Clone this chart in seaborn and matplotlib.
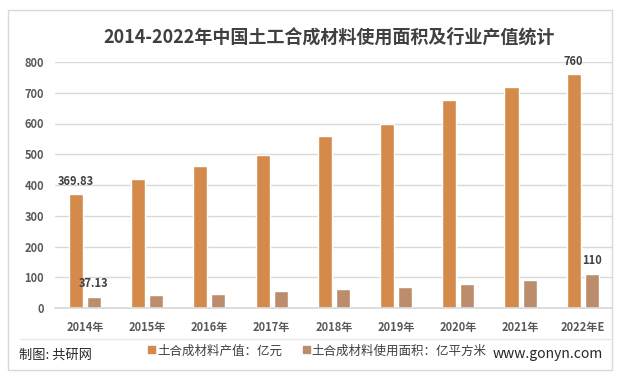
import matplotlib
matplotlib.use("Agg")
import matplotlib.pyplot as plt
import seaborn as sns
import pandas as pd
from matplotlib.patches import Rectangle
from matplotlib.lines import Line2D

years = ["2014年", "2015年", "2016年", "2017年", "2018年", "2019年", "2020年", "2021年", "2022年E"]
output_value = [369.83, 420, 463, 498, 560, 600, 677, 720, 760]
usage_area = [37.13, 42, 46, 55, 63, 69, 79, 91, 110]
series_names = ["土合成材料产值：亿元", "土合成材料使用面积：亿平方米"]
colors = ["#D48A4B", "#BC8D6C"]

sns.set_theme(style="white")
plt.rcParams["font.family"] = ["Noto Sans CJK SC", "DejaVu Sans"]

df = pd.DataFrame({
    "year": years * 2,
    "value": output_value + usage_area,
    "series": [series_names[0]] * len(years) + [series_names[1]] * len(years),
})

fig = plt.figure(figsize=(6.19, 3.80), dpi=100)
ax = fig.add_axes([55 / 619, 1 - 308 / 380, (612 - 55) / 619, (308 - 62) / 380])

sns.barplot(data=df, x="year", y="value", hue="series", palette=colors,
            width=0.58, gap=0.22, ax=ax, legend=False, saturation=1)

ax.set_ylim(0, 800)
ax.set_xlim(-0.48, len(years) - 0.53)
ax.set_yticks(range(0, 801, 100))
ax.yaxis.grid(True, color="#D9D9D9", linewidth=1)
ax.set_axisbelow(True)
for s in ax.spines.values():
    s.set_visible(False)
ax.spines["bottom"].set_visible(True)
ax.spines["bottom"].set_color("#D9D9D9")
ax.set_xlabel("")
ax.set_ylabel("")
ax.tick_params(axis="both", length=0, labelsize=8, colors="#595959")
ax.tick_params(axis="x", pad=9)
ax.tick_params(axis="y", pad=8)
for lbl in ax.get_xticklabels() + ax.get_yticklabels():
    lbl.set_fontweight("bold")

# data labels
bars0 = ax.containers[0]
bars1 = ax.containers[1]
label_idx = {0: ("369.83", "37.13"), 8: ("760", "110")}
for i, (l0, l1) in label_idx.items():
    for b, txt in ((bars0[i], l0), (bars1[i], l1)):
        ax.text(b.get_x() + b.get_width() / 2, b.get_height() + 22, txt,
                ha="center", va="bottom", fontsize=8, fontweight="bold",
                color="#404040", clip_on=False)

# title
fig.text(329 / 619, 1 - 37 / 380, "2014-2022年中国土工合成材料使用面积及行业产值统计",
         ha="center", va="center", fontsize=13, fontweight="bold", color="#404040")

# frame
fig.patches.append(Rectangle((8 / 619, 1 - 370 / 380), (612 - 8) / 619, (370 - 10) / 380,
                             transform=fig.transFigure, fill=False,
                             edgecolor="#D9D9D9", linewidth=1))
# footer separator
fig.lines.append(Line2D([20 / 619, 610 / 619], [1 - 339 / 380] * 2,
                        transform=fig.transFigure, color="#E8E8E8", linewidth=1))

# footer
fig.text(19 / 619, 1 - 355 / 380, "制图: 共研网", ha="left", va="center",
         fontsize=9.5, color="#262626")
fig.patches.append(Rectangle((148 / 619, 1 - 353 / 380), 7 / 619, 7 / 380,
                             transform=fig.transFigure, color=colors[0]))
fig.text(157 / 619, 1 - 351 / 380, series_names[0], ha="left", va="center",
         fontsize=9, color="#404040")
fig.patches.append(Rectangle((303 / 619, 1 - 353 / 380), 7 / 619, 7 / 380,
                             transform=fig.transFigure, color=colors[1]))
fig.text(311 / 619, 1 - 351 / 380, series_names[1], ha="left", va="center",
         fontsize=9, color="#404040")
fig.text(603 / 619, 1 - 354 / 380, "www.gonyn.com", ha="right", va="center",
         fontsize=10, color="#262626")

fig.savefig("out.png", dpi=100)
